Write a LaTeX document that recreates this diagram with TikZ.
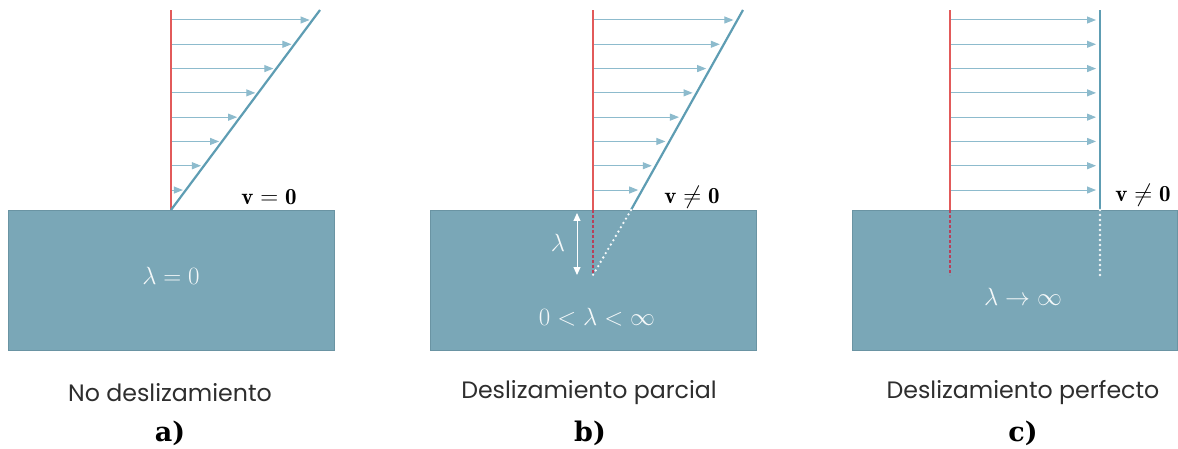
\documentclass[tikz,border=0pt]{standalone}
\usepackage{fontspec}
\newfontfamily\capfont{Poppins}
\newfontfamily\labfont{DejaVu Serif}
\usetikzlibrary{arrows.meta}
\definecolor{boxfill}{HTML}{7AA7B7}
\definecolor{boxedge}{HTML}{6A94A3}
\definecolor{arrowblue}{HTML}{8DBBCD}
\definecolor{lineblue}{HTML}{5E9DB3}
\definecolor{redline}{HTML}{E25A5A}
\definecolor{reddash}{HTML}{B8405A}
\definecolor{captext}{HTML}{2E2E2E}
\tikzset{
  wall/.style={draw=boxedge, fill=boxfill, line width=1pt},
  profile/.style={draw=lineblue, line width=2.2pt},
  wallref/.style={draw=redline, line width=1.6pt},
  refdash/.style={draw=reddash, line width=1.4pt, dash pattern=on 3pt off 2pt},
  slipdot/.style={draw=white!92!boxfill, line width=2.6pt, line cap=round, dash pattern=on 0pt off 5pt},
  vel/.style={draw=arrowblue, line width=1pt, -{Triangle[length=9pt,width=7pt]}},
  lam/.style={draw=white, line width=1pt, {Triangle[length=8pt,width=7pt]}-{Triangle[length=8pt,width=7pt]}},
  inlabel/.style={text=white!92!boxfill, font=\fontsize{23}{26}\selectfont, inner sep=0pt},
  vlabel/.style={text=black, font=\fontsize{23}{26}\selectfont, inner sep=0pt},
  caption/.style={text=captext, font=\capfont\fontsize{23.7}{27}\selectfont, inner sep=0pt},
  panel/.style={text=black, font=\labfont\bfseries\fontsize{27}{30}\selectfont, inner sep=0pt}
}
\begin{document}
\begin{tikzpicture}[x=1pt,y=-1pt]
\useasboundingbox (0,0) rectangle (1178,449);
\fill[white] (0,0) rectangle (1178,449);

% ---------- panel a ----------
\node[wall, anchor=north west, minimum width=326pt, minimum height=140pt] (wa) at (8,210) {};
\coordinate (ra0) at (171,210);
\coordinate (ra1) at (171,10);
\coordinate (pa1) at (320,10);
\draw[wallref] (ra0) -- (ra1);
\foreach \i in {0,...,7}{
  \pgfmathsetmacro{\yy}{20+24.29*\i}
  \pgfmathsetmacro{\xx}{171+(210-\yy)*0.745-3}
  \draw[vel] (172,\yy) -- (\xx,\yy);
}
\draw[profile] (ra0) -- (pa1);
\node[vlabel] (va) at (269,197) {$\mathbf{v}=\mathbf{0}$};
\node[inlabel] (la) at (171,276) {$\lambda=0$};
\node[caption] (ca) at (170,393) {No deslizamiento};
\node[panel] (pa) at (170,433) {a)};

% ---------- panel b ----------
\node[wall, anchor=north west, minimum width=326pt, minimum height=140pt] (wb) at (430,210) {};
\coordinate (rb0) at (593,210);
\coordinate (rb1) at (593,10);
\coordinate (rb2) at (593,275);
\coordinate (pb0) at (631,210);
\coordinate (pb1) at (743,10);
\draw[wallref] (rb0) -- (rb1);
\draw[refdash] (rb0) -- (rb2);
\foreach \i in {0,...,7}{
  \pgfmathsetmacro{\yy}{20+24.29*\i}
  \pgfmathsetmacro{\xx}{631+(210-\yy)*0.56-4}
  \draw[vel] (594,\yy) -- (\xx,\yy);
}
\draw[profile] (pb0) -- (pb1);
\draw[slipdot] (pb0) -- (rb2);
\coordinate (lb0) at (577,213);
\coordinate (lb1) at (577,275);
\draw[lam] (lb0) -- (lb1);
\node[inlabel] (llb) at (558,243) {$\lambda$};
\node[vlabel] (vb) at (692,197) {$\mathbf{v}\neq\mathbf{0}$};
\node[inlabel] (lb) at (597,317) {$0<\lambda<\infty$};
\node[caption] (cb) at (589,393) {Deslizamiento parcial};
\node[panel] (pb) at (590,433) {b)};

% ---------- panel c ----------
\node[wall, anchor=north west, minimum width=325pt, minimum height=140pt] (wc) at (852,210) {};
\coordinate (rc0) at (950,210);
\coordinate (rc1) at (950,10);
\coordinate (rc2) at (950,275);
\coordinate (pc0) at (1100,210);
\coordinate (pc1) at (1100,10);
\coordinate (pc2) at (1100,275);
\draw[wallref] (rc0) -- (rc1);
\draw[refdash] (rc0) -- (rc2);
\foreach \i in {0,...,7}{
  \pgfmathsetmacro{\yy}{20+24.29*\i}
  \draw[vel] (951,\yy) -- (1096,\yy);
}
\draw[profile] (pc0) -- (pc1);
\draw[slipdot] (pc0) -- (pc2);
\node[vlabel] (vc) at (1143,195) {$\mathbf{v}\neq\mathbf{0}$};
\node[inlabel] (lc) at (1023,297) {$\lambda\rightarrow\infty$};
\node[caption] (cc) at (1023,393) {Deslizamiento perfecto};
\node[panel] (pc) at (1023,433) {c)};
\end{tikzpicture}
\end{document}
